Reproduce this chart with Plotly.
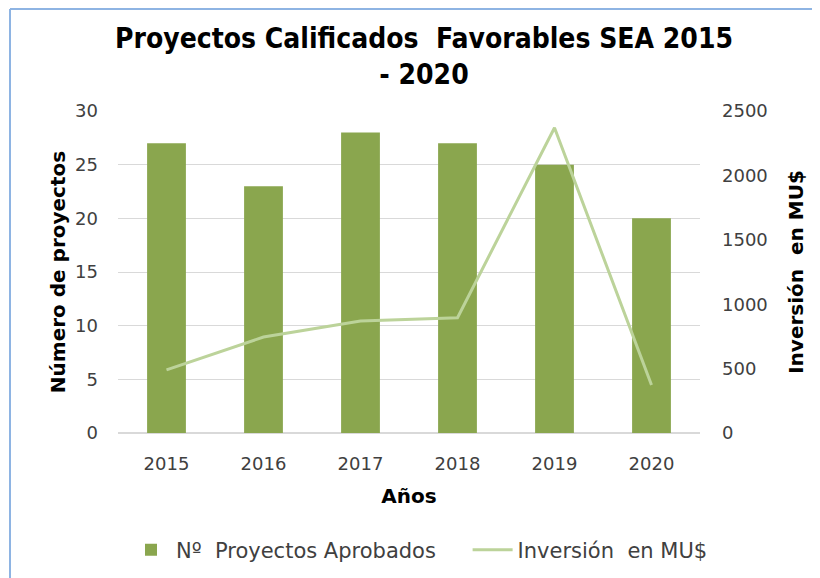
import plotly.graph_objects as go

years = ["2015", "2016", "2017", "2018", "2019", "2020"]
proyectos = [27, 23, 28, 27, 25, 20]
inversion = [490, 745, 870, 895, 2370, 373]

# the html body adds an 8px offset, so figure is 812x570
W, H = 812, 570
L, R, T, B = 110, 120, 103, 145
pw = W - L - R
ph = H - T - B

fig = go.Figure()
fig.add_trace(go.Bar(
    x=years, y=proyectos, name="N\u00ba  Proyectos Aprobados" + "\u00a0" * 4,
    marker=dict(color="#8aa64e", line=dict(width=0)), width=0.4, yaxis="y"
))
fig.add_trace(go.Scatter(
    x=years, y=inversion, name="Inversi\u00f3n  en MU$", mode="lines",
    line=dict(color="#bcd39a", width=3), yaxis="y2"
))

tickfont = dict(family="DejaVu Sans", size=18, color="#404040")
titlefont = dict(family="DejaVu Sans", size=20, color="#000000")
fig.update_layout(
    width=W, height=H,
    margin=dict(l=L, r=R, t=T, b=B),
    paper_bgcolor="white", plot_bgcolor="white",
    title=dict(
        text="<b>Proyectos Calificados  Favorables SEA 2015<br>- 2020</b>",
        x=(424 - 8) / W, xanchor="center", y=1 - 40 / H, yanchor="top",
        font=dict(family="DejaVu Sans Condensed", size=28, color="#000000"),
    ),
    xaxis=dict(
        tickfont=tickfont, showgrid=False, showline=False, ticks="", automargin=False,
        ticklabelstandoff=18,
        title=dict(text="<b>A\u00f1os</b>", font=titlefont, standoff=15),
    ),
    yaxis=dict(
        range=[0, 30], dtick=5, tickfont=tickfont, showgrid=True, gridcolor="#d9d9d9", gridwidth=1,
        zeroline=True, zerolinecolor="#d9d9d9", showline=False, ticks="", ticklabelstandoff=19,
        automargin=False,
        title=dict(text="<b>N\u00famero de proyectos</b>", font=titlefont, standoff=4),
    ),
    yaxis2=dict(
        range=[0, 2500], dtick=500, overlaying="y", side="right", tickfont=tickfont, showgrid=False,
        zeroline=False, showline=False, ticks="", ticklabelstandoff=21, automargin=False,
        title=dict(text="<b>Inversi\u00f3n  en MU$</b>", font=titlefont, standoff=22),
    ),
    legend=dict(
        orientation="h", xref="container", x=118 / W, xanchor="left",
        yref="container", y=(H - (550 - 8)) / H, yanchor="middle",
        font=dict(family="DejaVu Sans", size=21, color="#404040"), traceorder="normal",
        itemwidth=40,
    ),
    showlegend=True,
)

# chart-area border (left and top visible)
fig.add_shape(type="line", xref="paper", yref="paper",
              x0=(2 - L) / pw, x1=(2 - L) / pw, y0=1 + (T - 1) / ph, y1=-(H - T + 20) / ph,
              line=dict(color="#8eb4e3", width=2))
fig.add_shape(type="line", xref="paper", yref="paper",
              x0=(2 - L) / pw, x1=(W + 20 - L) / pw, y0=1 + (T - 1) / ph, y1=1 + (T - 1) / ph,
              line=dict(color="#8eb4e3", width=2))

fig.write_html("out.html")
